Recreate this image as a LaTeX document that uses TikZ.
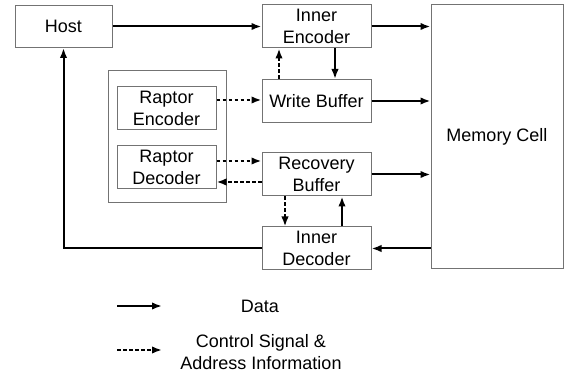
\documentclass[tikz,border=0pt]{standalone}
\usepackage{fontspec}
\setmainfont{Liberation Sans}
\usetikzlibrary{arrows.meta,positioning}

\begin{document}
\begin{tikzpicture}[x=1pt,y=1pt,on grid,
   >={Latex[length=10pt,width=7.5pt]},
   block/.style={draw=black!55,line width=1pt,align=center,inner sep=0pt,
                 font=\fontsize{18}{21.5}\selectfont},
   wide/.style={block,minimum width=109pt,minimum height=43pt},
   raptor/.style={block,minimum width=99pt,minimum height=43pt},
   legend/.style={align=center,inner sep=0pt,font=\fontsize{18}{21.5}\selectfont},
   data/.style={->,line width=2pt},
   ctrl/.style={->,line width=2pt,dash pattern=on 3.5pt off 2.5pt}]
   \useasboundingbox (0,0) rectangle (568,-379);
   % blocks
   \node[block,minimum width=97pt,minimum height=42pt] (host) at (63.5,-26.5) {Host};
   \node[wide] (inenc) [right=253pt of host] {Inner\\Encoder};
   \node[wide] (wbuf) [below=74.5pt of inenc] {Write Buffer};
   \node[wide] (recbuf) [below=73.5pt of wbuf] {Recovery\\Buffer};
   \node[wide] (indec) [below=74pt of recbuf] {Inner\\Decoder};
   \node[block,minimum width=132pt,minimum height=264pt] (mem) at (497,-137) {Memory Cell};
   \node[block,minimum width=118pt,minimum height=132pt] (outer) at (167,-137) {};
   \node[raptor] (renc) at (166.5,-108.5) {Raptor\\Encoder};
   \node[raptor] (rdec) [below=59pt of renc] {Raptor\\Decoder};
   % data paths
   \draw[data] (host) -- (inenc);
   \draw[data] (inenc.east) -- (inenc.east -| mem.west);
   \draw[data] (wbuf.east) -- (wbuf.east -| mem.west);
   \draw[data] (recbuf.east) -- (recbuf.east -| mem.west);
   \draw[data] (indec.east -| mem.west) -- (indec.east);
   \draw[data] (indec.west) -| (host.south);
   \draw[data] ([xshift=18.5pt]inenc.south) -- ([xshift=18.5pt]wbuf.north);
   \draw[data] ([xshift=25.5pt]indec.north) -- ([xshift=25.5pt]recbuf.south);
   % control paths
   \draw[ctrl] ([xshift=-37.5pt]wbuf.north) -- ([xshift=-37.5pt]inenc.south);
   \draw[ctrl] ([yshift=8.5pt]renc.east) -- ([yshift=8.5pt]renc.east -| wbuf.west);
   \draw[ctrl] ([yshift=6.5pt]rdec.east) -- ([yshift=6.5pt]rdec.east -| recbuf.west);
   \draw[ctrl] ([yshift=-7.5pt]recbuf.west) -- ([yshift=-7.5pt]recbuf.west -| rdec.east);
   \draw[ctrl] ([xshift=-31.5pt]recbuf.south) -- ([xshift=-31.5pt]indec.north);
   % legend
   \coordinate (d0) at (117,-306);
   \coordinate (d1) at (162,-306);
   \coordinate (c0) at (117,-350);
   \coordinate (c1) at (162,-350);
   \draw[data] (d0) -- (d1);
   \draw[ctrl] (c0) -- (c1);
   \node[legend] (dtxt) at (260,-306) {Data};
   \node[legend] (ctxt) at (261,-352) {Control Signal \&\\Address Information};
\end{tikzpicture}
\end{document}
